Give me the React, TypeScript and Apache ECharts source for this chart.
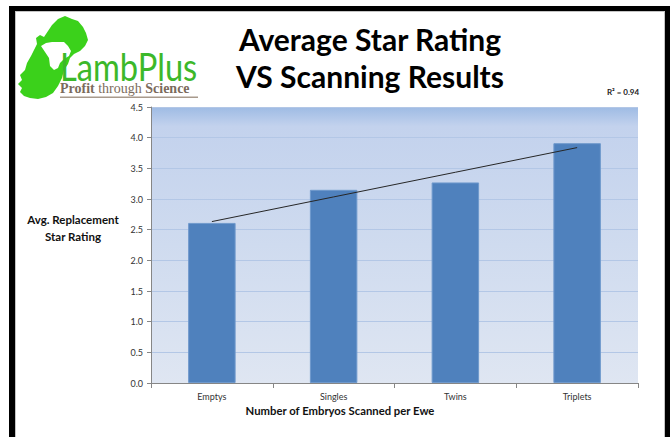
import React, { useEffect, useRef } from "react";
import * as echarts from "echarts";

const categories = ["Emptys", "Singles", "Twins", "Triplets"];
const ratings = [2.61, 3.15, 3.27, 3.91];
const yMin = 0;
const yMax = 4.5;
const yInterval = 0.5;
const titleLines = ["Average Star Rating", "VS Scanning Results"];
const yAxisTitle = ["Avg. Replacement", "Star Rating"];
const xAxisTitle = "Number of Embryos Scanned per Ewe";
const rSquaredLabel = "R² = 0.94";

// least-squares linear trend line through the bar values
function trend(values: number[]): number[] {
  const n = values.length;
  const xs = values.map((_, i) => i + 1);
  const mx = xs.reduce((a, b) => a + b, 0) / n;
  const my = values.reduce((a, b) => a + b, 0) / n;
  let sxy = 0;
  let sxx = 0;
  xs.forEach((x, i) => {
    sxy += (x - mx) * (values[i] - my);
    sxx += (x - mx) * (x - mx);
  });
  const slope = sxy / sxx;
  return xs.map((x) => +(my + slope * (x - mx)).toFixed(4));
}
const trendValues = trend(ratings);

const irelandPath =
  "M52,25 L58,19 L65,16 L72,19 L78,21 L83,27 L86,33 L88,40 L85,46 L80,51 L74,54 L70,58 L68,64 L64,70 L62,78 L58,86 L53,93 L46,97 L38,99 L30,98 L24,96 L20,92 L22,88 L18,84 L22,80 L20,75 L25,70 L27,63 L31,56 L34,50 L37,44 L36,38 L40,35 L44,37 L48,31 Z";
const lambHeadPath =
  "M41,46 L46,43 L52,42 L58,42 L64,42 L68,46 L71,51 L69,56 L64,59 L60,63 L58,68 L54,70 L50,66 L49,58 L45,52 Z";

echarts.graphic.registerShape("ireland", echarts.graphic.extendPath(irelandPath, {}));
echarts.graphic.registerShape("lambhead", echarts.graphic.extendPath(lambHeadPath, {}));

const FONT = "Lato, 'Open Sans', sans-serif";

export default function App() {
  const ref = useRef<HTMLDivElement>(null);
  useEffect(() => {
    if (!ref.current) return;
    const chart = echarts.init(ref.current, null, { renderer: "svg" });
    chart.setOption({
      animation: false,
      grid: {
        left: 151,
        right: 32,
        top: 107,
        bottom: 54,
        show: true,
        borderWidth: 0,
        backgroundColor: new echarts.graphic.LinearGradient(0, 0, 0, 1, [
          { offset: 0, color: "#9ebbe4" },
          { offset: 0.07, color: "#c3d2ed" },
          { offset: 0.5, color: "#cfdbef" },
          { offset: 1, color: "#dfe6f2" },
        ]),
      },
      xAxis: {
        type: "category",
        data: categories,
        boundaryGap: true,
        axisLine: { lineStyle: { color: "#868686", width: 1 } },
        axisTick: { show: true, alignWithLabel: false, length: 5, lineStyle: { color: "#868686" } },
        axisLabel: { color: "#333", fontSize: 9, fontFamily: FONT, margin: 9 },
        splitLine: { show: false },
      },
      yAxis: {
        type: "value",
        min: yMin,
        max: yMax,
        interval: yInterval,
        axisLine: { show: true, lineStyle: { color: "#868686", width: 1 } },
        axisTick: { show: true, length: 4, lineStyle: { color: "#868686" } },
        axisLabel: {
          color: "#333",
          fontSize: 9,
          fontFamily: FONT,
          margin: 8,
          showMaxLabel: true,
          formatter: (v: number) => v.toFixed(1),
        },
        splitLine: { show: true, lineStyle: { color: "#b3c7e6", width: 1 } },
      },
      series: [
        {
          type: "bar",
          data: ratings,
          barWidth: "39%",
          itemStyle: { color: "#4f81bd", borderColor: "#6f99cc", borderWidth: 1 },
          z: 2,
        },
        {
          type: "line",
          data: trendValues,
          showSymbol: false,
          symbol: "none",
          lineStyle: { color: "#262626", width: 1 },
          z: 3,
        },
      ],
      graphic: [
        { type: "ireland", x: 0, y: 0, style: { fill: "#3bd11b" } },
        { type: "lambhead", x: 0, y: 0, style: { fill: "#ffffff" } },
        {
          type: "text",
          x: 60,
          y: 67,
          scaleX: 0.86,
          style: {
            text: "LambPlus",
            fill: "#3cb82a",
            font: "normal 38px Lato, 'Open Sans', sans-serif",
            align: "left",
            verticalAlign: "middle",
          },
        },
        {
          type: "text",
          x: 60,
          y: 88.5,
          style: {
            text: "{b|Profit} through {b|Science}",
            fill: "#7b6b5c",
            font: "normal 14px 'Liberation Serif', serif",
            align: "left",
            verticalAlign: "middle",
            rich: {
              b: { fill: "#7b6b5c", font: "bold 14px 'Liberation Serif', serif" },
            },
          },
        },
        {
          type: "rect",
          shape: { x: 60, y: 96.5, width: 138, height: 1.5 },
          style: { fill: "#a89a8c" },
        },
        {
          type: "text",
          x: 370,
          y: 38.5,
          style: {
            text: titleLines[0],
            fill: "#000",
            font: "bold 30px Lato, 'Open Sans', sans-serif",
            align: "center",
            verticalAlign: "middle",
          },
        },
        {
          type: "text",
          x: 370,
          y: 75.5,
          style: {
            text: titleLines[1],
            fill: "#000",
            font: "bold 30px Lato, 'Open Sans', sans-serif",
            align: "center",
            verticalAlign: "middle",
          },
        },
        {
          type: "text",
          x: 623,
          y: 92,
          style: {
            text: rSquaredLabel,
            fill: "#222",
            font: "bold 8px Lato, 'Open Sans', sans-serif",
            align: "center",
            verticalAlign: "middle",
          },
        },
        {
          type: "text",
          x: 73,
          y: 228,
          style: {
            text: yAxisTitle.join("\n"),
            fill: "#111",
            font: "bold 11.5px Lato, 'Open Sans', sans-serif",
            align: "center",
            verticalAlign: "middle",
            lineHeight: 17,
          },
        },
        {
          type: "text",
          x: 340,
          y: 410,
          style: {
            text: xAxisTitle,
            fill: "#111",
            font: "bold 11.3px Lato, 'Open Sans', sans-serif",
            align: "center",
            verticalAlign: "middle",
          },
        },
      ],
    });
    return () => chart.dispose();
  }, []);

  return (
    <div
      style={{
        position: "fixed",
        left: 0,
        top: 0,
        width: 670,
        height: 437,
        overflow: "hidden",
        background: "#ffffff",
      }}
    >
      <div
        style={{
          position: "absolute",
          left: 9,
          top: 6,
          width: 661,
          height: 600,
          boxSizing: "border-box",
          borderLeft: "6px solid #000",
          borderTop: "5px solid #000",
          borderRight: "5px solid #000",
          background: "#fff",
          boxShadow: "inset 1px 1px 0 #c4c4c4, inset -1px 0 0 #c4c4c4",
        }}
      />
      <div ref={ref} style={{ position: "absolute", left: 0, top: 0, width: 670, height: 437 }} />
    </div>
  );
}
